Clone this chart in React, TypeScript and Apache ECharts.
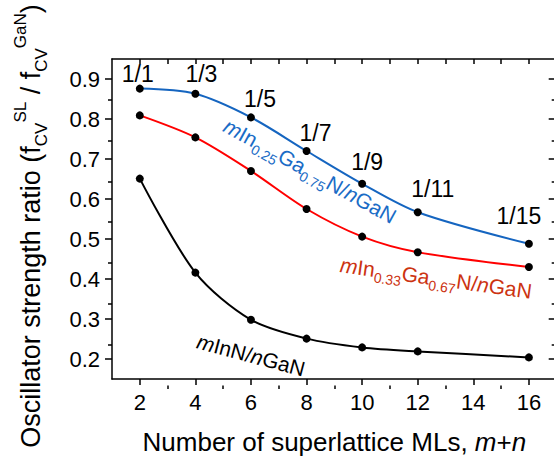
import React, { useEffect, useRef } from "react";
import * as echarts from "echarts";

// ---- data ----
const xValues = [2, 4, 6, 8, 10, 12, 16];
const blueValues = [0.876, 0.863, 0.804, 0.72, 0.638, 0.567, 0.488]; // mIn0.25Ga0.75N/nGaN
const redValues = [0.809, 0.754, 0.67, 0.575, 0.506, 0.467, 0.43]; // mIn0.33Ga0.67N/nGaN
const blackValues = [0.651, 0.416, 0.298, 0.251, 0.229, 0.219, 0.204]; // mInN/nGaN
const ratioLabels = ["1/1", "1/3", "1/5", "1/7", "1/9", "1/11", "1/15"];
const xTickLabels = [2, 4, 6, 8, 10, 12, 14, 16];
const xMinorTicks = [3, 5, 7, 9, 11, 13, 15];
const xAllTicks = [2, 3, 4, 5, 6, 7, 8, 9, 10, 11, 12, 13, 14, 15, 16];
const yTickLabels = [0.2, 0.3, 0.4, 0.5, 0.6, 0.7, 0.8, 0.9];
const yMinorTicks = [0.25, 0.35, 0.45, 0.55, 0.65, 0.75, 0.85];

// label offsets (style only)
const ratioOffsets: [number, number][] = [
  [-2, 1],
  [6, -4],
  [9, -3],
  [9, -3],
  [5, -6],
  [15, -8],
  [-10, -12],
];

const FONT = "'Liberation Sans', Arial, sans-serif";

export default function App() {
  const ref = useRef<HTMLDivElement>(null);
  useEffect(() => {
    if (!ref.current) return;
    const chart = echarts.init(ref.current, undefined, { renderer: "svg" });
    const lineBlack = { show: true, lineStyle: { color: "#000", width: 1.5 } };
    const gridRect = { left: 112, top: 59, width: 444.7, height: 326.5 };
    const mk = (vals: number[]) => vals.map((v, i) => [xValues[i], v]);

    const option: any = {
      animation: false,
      backgroundColor: "#fff",
      grid: [
        { ...gridRect, containLabel: false },
        { ...gridRect, containLabel: false },
      ],
      xAxis: [
        {
          type: "value",
          gridIndex: 0,
          position: "bottom",
          min: 1,
          max: 17,
          axisLine: lineBlack,
          axisTick: { show: true, customValues: xTickLabels, length: 6, inside: false, lineStyle: { color: "#000", width: 1.5 } },
          axisLabel: { customValues: xTickLabels, fontSize: 22, color: "#000", margin: 12, fontFamily: FONT },
          splitLine: { show: false },
          name: "Number of superlattice MLs, {i|m}+{i|n}",
          nameLocation: "middle",
          nameGap: 50,
          nameTextStyle: {
            fontSize: 26,
            color: "#000",
            fontFamily: FONT,
            rich: { i: { fontSize: 26, fontStyle: "italic", color: "#000", fontFamily: FONT } },
          },
        },
        {
          type: "value",
          gridIndex: 0,
          position: "top",
          min: 1,
          max: 17,
          axisLine: lineBlack,
          axisTick: { show: true, customValues: xAllTicks, length: 5, inside: true, lineStyle: { color: "#000", width: 1.5 } },
          axisLabel: { show: false },
          splitLine: { show: false },
        },
        {
          type: "value",
          gridIndex: 1,
          position: "bottom",
          min: 1,
          max: 17,
          axisLine: { show: false },
          axisTick: { show: true, customValues: xMinorTicks, length: 3.5, inside: false, lineStyle: { color: "#000", width: 1.5 } },
          axisLabel: { show: false },
          splitLine: { show: false },
        },
      ],
      yAxis: [
        {
          type: "value",
          gridIndex: 0,
          position: "left",
          min: 0.15,
          max: 0.95,
          axisLine: lineBlack,
          axisTick: { show: true, customValues: yTickLabels, length: 7, inside: false, lineStyle: { color: "#000", width: 1.5 } },
          axisLabel: { customValues: yTickLabels, fontSize: 22, color: "#000", margin: 12, fontFamily: FONT, formatter: (v: number) => v.toFixed(1) },
          splitLine: { show: false },
        },
        {
          type: "value",
          gridIndex: 0,
          position: "right",
          min: 0.15,
          max: 0.95,
          axisLine: lineBlack,
          axisTick: { show: true, customValues: yTickLabels, length: 8, inside: true, lineStyle: { color: "#000", width: 1.5 } },
          axisLabel: { show: false },
          splitLine: { show: false },
        },
        {
          type: "value",
          gridIndex: 1,
          position: "left",
          min: 0.15,
          max: 0.95,
          axisLine: { show: false },
          axisTick: { show: true, customValues: yMinorTicks, length: 4, inside: false, lineStyle: { color: "#000", width: 1.5 } },
          axisLabel: { show: false },
          splitLine: { show: false },
        },
        {
          type: "value",
          gridIndex: 1,
          position: "right",
          min: 0.15,
          max: 0.95,
          axisLine: { show: false },
          axisTick: { show: true, customValues: yMinorTicks, length: 5, inside: true, lineStyle: { color: "#000", width: 1.5 } },
          axisLabel: { show: false },
          splitLine: { show: false },
        },
      ],
      series: [
        {
          type: "line",
          name: "mIn0.25Ga0.75N/nGaN",
          xAxisIndex: 0,
          yAxisIndex: 0,
          data: mk(blueValues).map((d, i) => ({ value: d, label: { offset: ratioOffsets[i] } })),
          smooth: 0.3,
          symbol: "circle",
          symbolSize: 8,
          itemStyle: { color: "#000" },
          lineStyle: { color: "#1565c0", width: 2 },
          z: 3,
          label: {
            show: true,
            position: "top",
            distance: 0,
            fontSize: 23,
            color: "#000",
            fontFamily: FONT,
            formatter: (p: any) => ratioLabels[p.dataIndex],
          },
        },
        {
          type: "line",
          name: "mIn0.33Ga0.67N/nGaN",
          xAxisIndex: 0,
          yAxisIndex: 0,
          data: mk(redValues),
          smooth: 0.3,
          symbol: "circle",
          symbolSize: 8,
          itemStyle: { color: "#000" },
          lineStyle: { color: "#ff0000", width: 2 },
          z: 3,
        },
        {
          type: "line",
          name: "mInN/nGaN",
          xAxisIndex: 0,
          yAxisIndex: 0,
          data: mk(blackValues),
          smooth: 0.3,
          symbol: "circle",
          symbolSize: 8,
          itemStyle: { color: "#000" },
          lineStyle: { color: "#000", width: 2 },
          z: 3,
        },
      ],
      graphic: [
        {
          type: "text",
          x: 31,
          y: 226,
          rotation: Math.PI / 2,
          style: {
            text: "Oscillator strength ratio (f{b|CV}{t|SL} / f{b|CV}{t|GaN})",
            fill: "#000",
            fontSize: 27,
            fontFamily: FONT,
            lineHeight: 38,
            textAlign: "center",
            textVerticalAlign: "middle",
            rich: {
              b: { fontSize: 17, fill: "#000", fontFamily: FONT, lineHeight: 17, verticalAlign: "bottom" },
              t: { fontSize: 17, fill: "#000", fontFamily: FONT, lineHeight: 17, verticalAlign: "top" },
            },
          },
        },
        {
          type: "text",
          x: 310,
          y: 171,
          rotation: (-29 * Math.PI) / 180,
          style: {
            text: "{i|m}{r|In}{s|0.25}{r|Ga}{s|0.75}{r|N/}{i|n}{r|GaN}",
            textAlign: "center",
            textVerticalAlign: "middle",
            rich: {
              r: { fontSize: 21, fill: "#1a6cc6", fontFamily: FONT, lineHeight: 30 },
              i: { fontSize: 21, fill: "#1a6cc6", fontFamily: FONT, fontStyle: "italic", lineHeight: 30 },
              s: { fontSize: 14, fill: "#1a6cc6", fontFamily: FONT, lineHeight: 14, verticalAlign: "bottom" },
            },
          },
        },
        {
          type: "text",
          x: 436,
          y: 278,
          rotation: (-8 * Math.PI) / 180,
          style: {
            text: "{i|m}{r|In}{s|0.33}{r|Ga}{s|0.67}{r|N/}{i|n}{r|GaN}",
            textAlign: "center",
            textVerticalAlign: "middle",
            rich: {
              r: { fontSize: 21, fill: "#cc3311", fontFamily: FONT, lineHeight: 30 },
              i: { fontSize: 21, fill: "#cc3311", fontFamily: FONT, fontStyle: "italic", lineHeight: 30 },
              s: { fontSize: 14, fill: "#cc3311", fontFamily: FONT, lineHeight: 14, verticalAlign: "bottom" },
            },
          },
        },
        {
          type: "text",
          x: 251,
          y: 355,
          rotation: (-15 * Math.PI) / 180,
          style: {
            text: "{i|m}{r|InN/}{i|n}{r|GaN}",
            textAlign: "center",
            textVerticalAlign: "middle",
            rich: {
              r: { fontSize: 21, fill: "#000", fontFamily: FONT, lineHeight: 30 },
              i: { fontSize: 21, fill: "#000", fontFamily: FONT, fontStyle: "italic", lineHeight: 30 },
            },
          },
        },
      ],
    };
    chart.setOption(option);
    return () => chart.dispose();
  }, []);

  return (
    <div style={{ position: "absolute", left: 0, top: 0, width: 554, height: 460, overflow: "hidden", background: "#fff" }}>
      <div ref={ref} style={{ width: 560, height: 460 }} />
    </div>
  );
}
